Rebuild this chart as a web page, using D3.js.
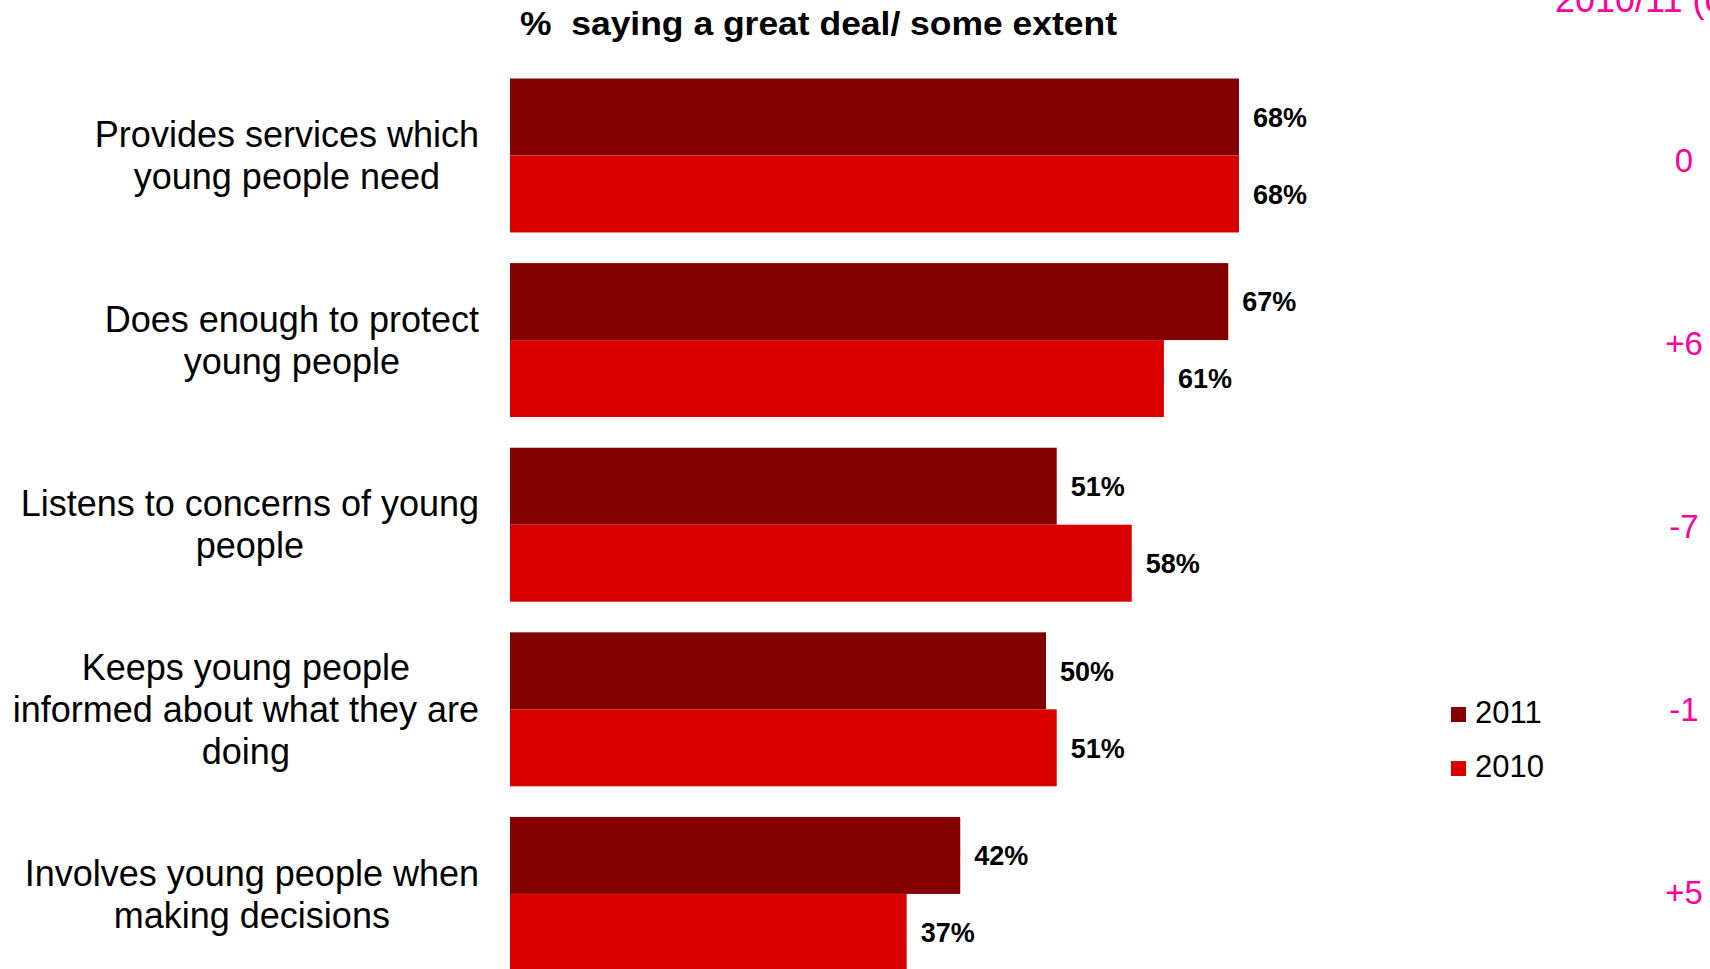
<!DOCTYPE html>
<html>
<head>
<meta charset="utf-8">
<script src="https://cdn.jsdelivr.net/npm/d3@7"></script>
<style>
  html, body { margin: 0; padding: 0; background: #fff; overflow: hidden; }
  svg { display: block; font-family: "Liberation Sans", Arial, sans-serif; }
</style>
</head>
<body>
<svg id="chart" width="1710" height="969"></svg>
<script>
// ---- data ----
const categories = [
  ["Provides services which", "young people need"],
  ["Does enough to protect", "young people"],
  ["Listens to concerns of young", "people"],
  ["Keeps young people", "informed about what they are", "doing"],
  ["Involves young people when", "making decisions"]
];
const seriesNames = ["2011", "2010"];
const values2011 = [68, 67, 51, 50, 42];
const values2010 = [68, 61, 58, 51, 37];
const changeLabels = ["0", "+6", "-7", "-1", "+5"];
const titleText = "%  saying a great deal/ some extent";
const changeHeader = "2010/11 (change)";
const colors = { "2011": "#840000", "2010": "#D90000" };

// ---- layout ----
const svg = d3.select("#chart");
const catIds = categories.map((c, i) => i);
const x = d3.scaleLinear().domain([0, 100]).range([510, 510 + 1072]);
const y = d3.scaleBand().domain(catIds).range([78.5, 78.5 + 5 * 184.6 - 30.6]).paddingInner(0.166).paddingOuter(0);
const ySub = d3.scaleBand().domain(seriesNames).range([0, y.bandwidth()]).padding(0);
const yChg = d3.scalePoint().domain(catIds).range([160, 892]);

const data = catIds.map(i => ({ i, vals: [
  { s: "2011", v: values2011[i] },
  { s: "2010", v: values2010[i] }
]}));

// title
svg.append("text")
  .attr("x", 520).attr("y", 35)
  .attr("font-size", 33).attr("font-weight", "bold")
  .attr("textLength", 597).attr("lengthAdjust", "spacingAndGlyphs")
  .style("white-space", "pre")
  .attr("fill", "#000")
  .text(titleText);

// bars
const groups = svg.selectAll("g.cat").data(data).join("g")
  .attr("class", "cat")
  .attr("transform", d => `translate(0,${y(d.i)})`);

groups.selectAll("rect").data(d => d.vals).join("rect")
  .attr("x", x(0))
  .attr("y", d => ySub(d.s))
  .attr("width", d => x(d.v) - x(0))
  .attr("height", ySub.bandwidth())
  .attr("fill", d => colors[d.s]);

groups.selectAll("text.val").data(d => d.vals).join("text")
  .attr("class", "val")
  .attr("x", d => x(d.v) + 14)
  .attr("y", d => ySub(d.s) + ySub.bandwidth() / 2)
  .attr("dy", "0.36em")
  .attr("font-size", 27).attr("font-weight", "bold")
  .attr("fill", "#000")
  .text(d => d.v + "%");

// category labels (centered block, right edge aligned)
const lineH = 42;
data.forEach(d => {
  const lines = categories[d.i];
  const g = svg.append("g");
  const cy = y(d.i) + y.bandwidth() / 2;
  const texts = lines.map((ln, k) => g.append("text")
    .attr("y", cy + (k - (lines.length - 1) / 2) * lineH)
    .attr("dy", "0.35em")
    .attr("font-size", 36)
    .attr("text-anchor", "middle")
    .attr("fill", "#000")
    .text(ln));
  const maxW = d3.max(texts, t => t.node().getComputedTextLength());
  texts.forEach(t => t.attr("x", 479 - maxW / 2));
});

// change column
svg.append("text")
  .attr("x", 1555).attr("y", 12)
  .attr("font-size", 36).attr("fill", "#FF0099")
  .text(changeHeader);

svg.selectAll("text.chg").data(data).join("text")
  .attr("class", "chg")
  .attr("x", 1684)
  .attr("y", d => yChg(d.i))
  .attr("dy", "0.36em")
  .attr("text-anchor", "middle")
  .attr("font-size", 33).attr("fill", "#FF0099")
  .text(d => changeLabels[d.i]);

// legend
const legend = svg.append("g").attr("transform", "translate(1451,707)");
seriesNames.forEach((s, k) => {
  legend.append("rect").attr("x", 0).attr("y", k * 54).attr("width", 15).attr("height", 15).attr("fill", colors[s]);
  legend.append("text").attr("x", 24).attr("y", k * 54 + 16).attr("font-size", 31).attr("fill", "#000").text(s);
});
</script>
</body>
</html>
